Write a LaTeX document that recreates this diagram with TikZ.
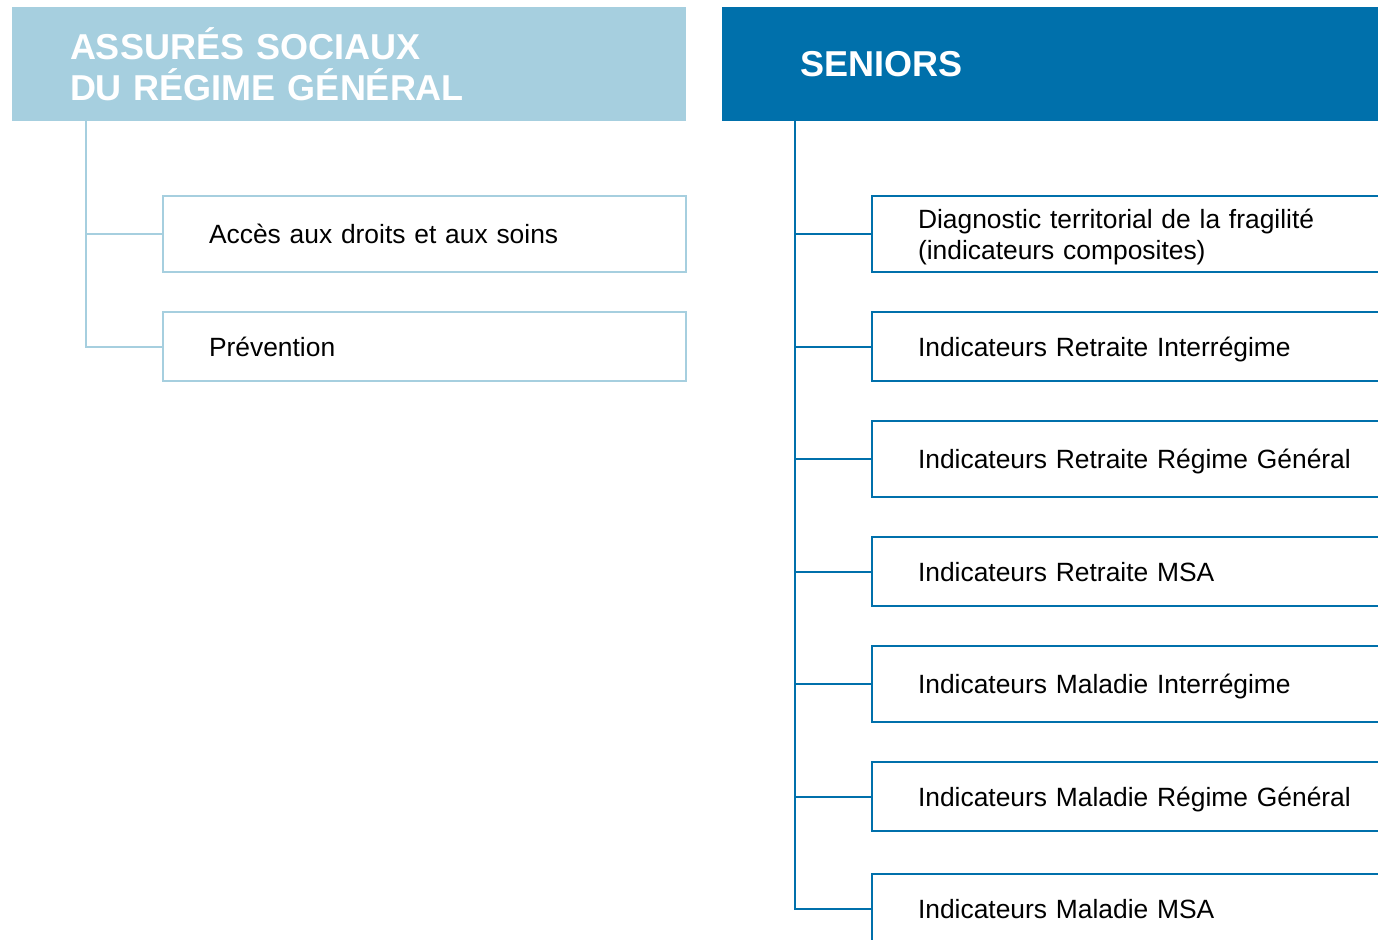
\documentclass[tikz,border=0pt]{standalone}
\usepackage{fontspec}
\setmainfont{Liberation Sans}
\usetikzlibrary{positioning}
\definecolor{paleblue}{HTML}{A6CFDF}
\definecolor{deepblue}{HTML}{0070AB}

\begin{document}
\begin{tikzpicture}[x=0.5pt,y=-0.5pt,line width=1pt,on grid,node distance=56.25pt,
                head node/.style={inner xsep=#1,inner ysep=0pt,minimum height=57pt,align=left,
                  text=white,font=\fontsize{18}{20.5}\selectfont\bfseries},
                item node/.style={draw,inner xsep=23pt,inner ysep=0pt,text depth=0pt,align=left,
                  font=\fontsize{13.2}{15.5}\selectfont},
                pale item/.style={item node,draw=paleblue,text width=215.5pt},
                deep item/.style={item node,draw=deepblue,text width=240pt}]
                \path[use as bounding box] (0,0) rectangle (1378,939);
                \clip (0,0) rectangle (1378,939);

                % headers
                \node[head node=29pt,fill=paleblue,text width=279pt] (lh) at (349,64)
                  {ASSURÉS SOCIAUX\\DU RÉGIME GÉNÉRAL};
                \node[head node=39pt,fill=deepblue,text width=250pt] (rh) at (1050,64) {SENIORS};
                \coordinate (lt) at (86,121);
                \coordinate (rt) at (795,121);

                % left column
                \node[pale item,minimum height=38pt] (a1) at (424.5,234) {Accès aux droits et aux soins};
                \node[pale item,minimum height=34.5pt] (a2) [below=of a1] {Prévention};

                % right column
                \node[deep item,minimum height=38pt,text depth=15.5pt] (b1) at (1158,234)
                  {Diagnostic territorial de la fragilité\\(indicateurs composites)};
                \node[deep item,minimum height=34.5pt] (b2) [below=of b1] {Indicateurs Retraite Interrégime};
                \node[deep item,minimum height=38pt] (b3) [below=of b2] {Indicateurs Retraite Régime Général};
                \node[deep item,minimum height=34.5pt] (b4) [below=of b3] {Indicateurs Retraite MSA};
                \node[deep item,minimum height=38pt] (b5) [below=of b4] {Indicateurs Maladie Interrégime};
                \node[deep item,minimum height=34.5pt] (b6) [below=of b5] {Indicateurs Maladie Régime Général};
                \node[deep item,minimum height=35pt] (b7) [below=of b6] {Indicateurs Maladie MSA};

                \path[draw=paleblue]
                (lt) |- (a1.west)
                (lt) |- (a2.west);
                \path[draw=deepblue]
                \foreach \i in {1,...,7} {(rt) |- (b\i.west)};
\end{tikzpicture}
\end{document}
